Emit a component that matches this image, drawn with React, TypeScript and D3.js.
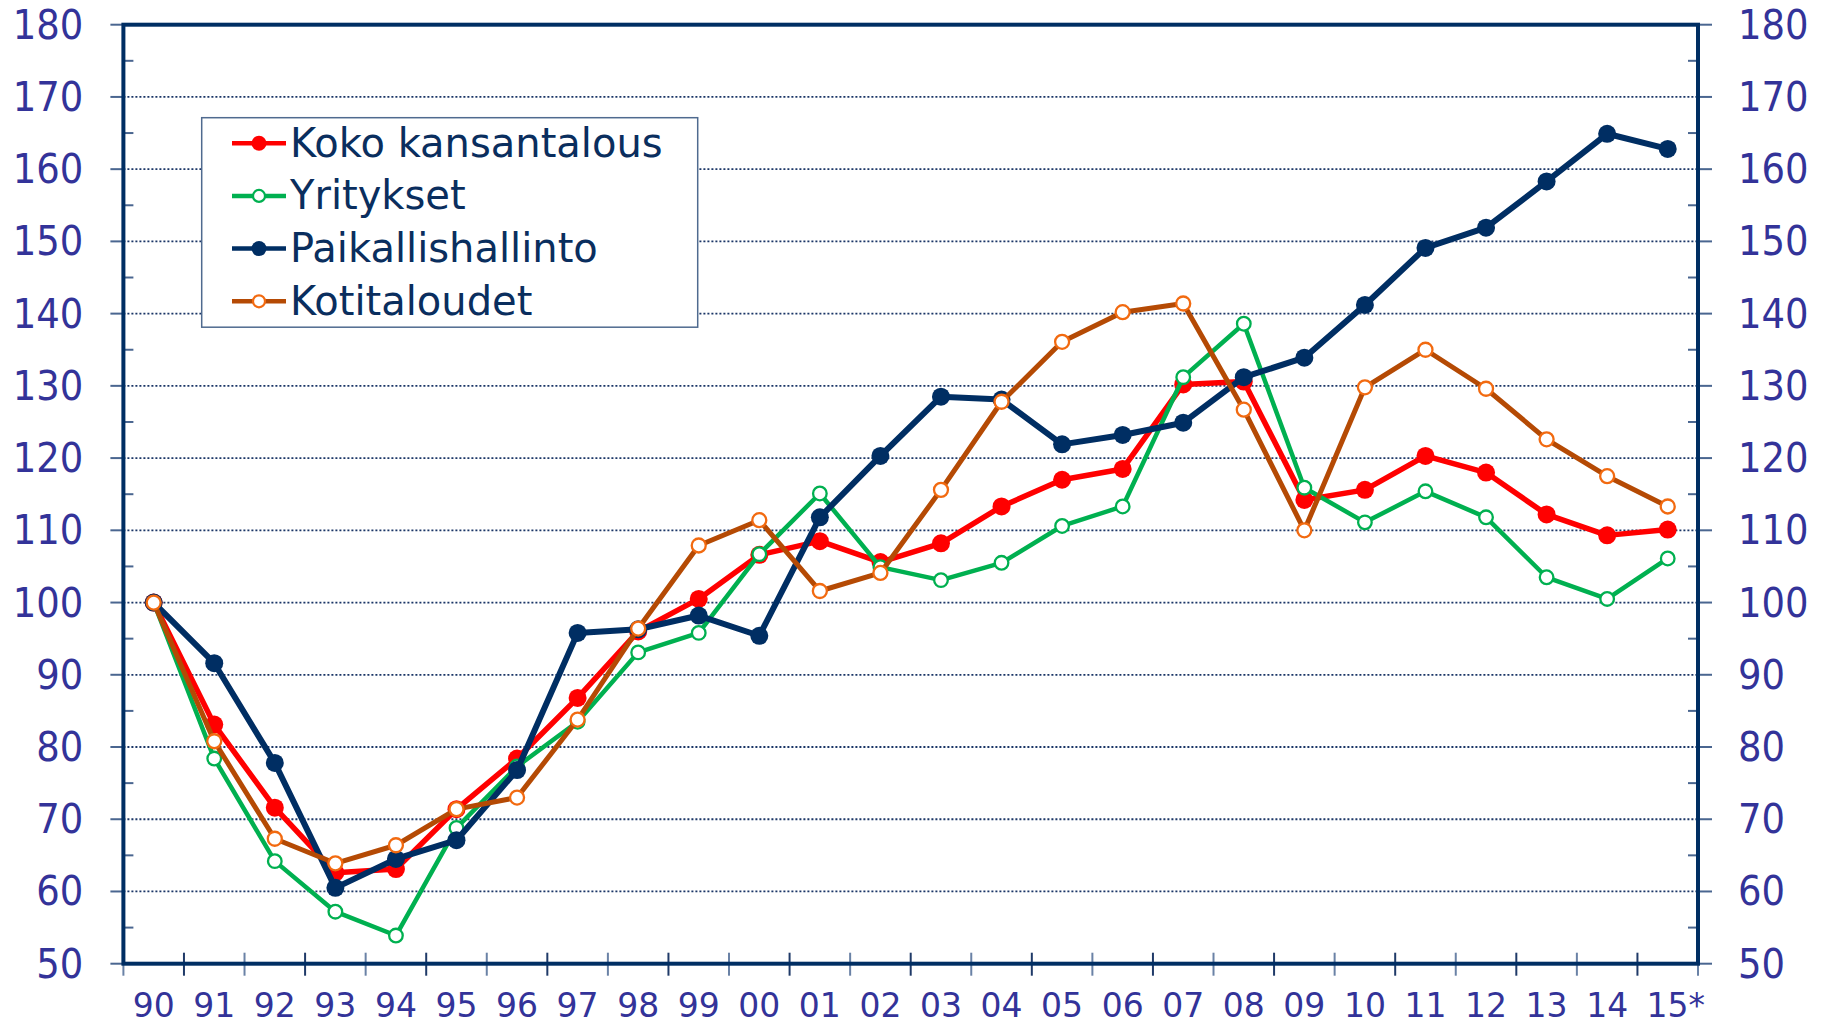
import React from "react";
import { scaleBand, scaleLinear, line, range } from "d3";

// years on the x axis
const years = ["90", "91", "92", "93", "94", "95", "96", "97", "98", "99", "00", "01", "02",
  "03", "04", "05", "06", "07", "08", "09", "10", "11", "12", "13", "14", "15*"];

const yTicks = [50, 60, 70, 80, 90, 100, 110, 120, 130, 140, 150, 160, 170, 180];

// index values (1990 = 100)
const kokoKansantalous = [100, 83.1, 71.6, 62.6, 63.1, 71.4, 78.4, 86.8, 96.0, 100.5, 106.6, 108.5, 105.6,
  108.2, 113.3, 117.0, 118.5, 130.2, 130.6, 114.2, 115.6, 120.3, 118.0, 112.2, 109.3, 110.1];
const yritykset = [100, 78.4, 64.2, 57.2, 53.9, 68.8, 77.3, 83.5, 93.1, 95.8, 106.7, 115.1, 104.9,
  103.1, 105.5, 110.6, 113.3, 131.2, 138.6, 115.9, 111.1, 115.4, 111.8, 103.5, 100.5, 106.1];
const paikallishallinto = [100, 91.6, 77.8, 60.5, 64.5, 67.1, 76.8, 95.8, 96.3, 98.2, 95.4, 111.8, 120.3,
  128.5, 128.1, 121.9, 123.2, 124.9, 131.2, 133.9, 141.2, 149.1, 151.9, 158.3, 164.9, 162.8];
const kotitaloudet = [100, 80.8, 67.3, 63.9, 66.4, 71.4, 73.0, 83.8, 96.4, 107.9, 111.4, 101.6, 104.1,
  115.6, 127.8, 136.1, 140.2, 141.4, 126.7, 110.0, 129.8, 135.0, 129.6, 122.6, 117.5, 113.3];

const seriesNames = ["Koko kansantalous", "Yritykset", "Paikallishallinto", "Kotitaloudet"];

const series = [
  { name: seriesNames[0], values: kokoKansantalous, line: "#FF0000", mark: "#FF0000", fill: "#FF0000", r: 9, lw: 5.5, open: false },
  { name: seriesNames[1], values: yritykset, line: "#00B050", mark: "#00B050", fill: "#FFFFFF", r: 6.8, lw: 4.5, open: true },
  { name: seriesNames[2], values: paikallishallinto, line: "#002E63", mark: "#002E63", fill: "#002E63", r: 9, lw: 6, open: false },
  { name: seriesNames[3], values: kotitaloudet, line: "#B54A04", mark: "#F26A10", fill: "#FFFFFF", r: 7, lw: 5, open: true },
];

const W = 1825;
const H = 1026;
const left = 123.4;
const right = 1698;
const top = 24.7;
const bottom = 963.7;

const axisColor = "#002E63";
const labelColor = "#333399";
const font = "'DejaVu Sans', Verdana, sans-serif";

export default function App() {
  const x = scaleBand().domain(years).range([left, right]);
  const y = scaleLinear().domain([50, 180]).range([bottom, top]);
  const cx = (i) => x(years[i]) + x.bandwidth() / 2;

  const path = line().x((d, i) => cx(i)).y((d) => y(d));

  const minor = range(55, 180, 10);
  const boundaries = range(0, years.length + 1).map((i) => left + i * x.bandwidth());

  // legend layout
  const lgX = 201.7, lgY = 117.7, lgW = 496, lgH = 209.5;
  const rowH = 52.7, firstBase = 156.7;

  return (
    <div style={{ position: "absolute", left: 0, top: 0 }}>
      <svg width={W} height={H} style={{ display: "block", background: "#fff" }}>
        {/* dotted grid lines */}
        {yTicks.filter((t) => t > 50 && t < 180).map((t) => (
          <line key={"g" + t} x1={left} x2={right} y1={y(t)} y2={y(t)}
            stroke="#1A3566" strokeWidth={1.8} strokeDasharray="2,2" />
        ))}

        {/* minor ticks, inside */}
        {minor.map((t) => (
          <g key={"m" + t}>
            <line x1={left} x2={left + 10} y1={y(t)} y2={y(t)} stroke="#4A6690" strokeWidth={2} />
            <line x1={right - 10} x2={right} y1={y(t)} y2={y(t)} stroke="#4A6690" strokeWidth={2} />
          </g>
        ))}

        {/* major ticks, outside */}
        {yTicks.map((t) => (
          <g key={"M" + t}>
            <line x1={left - 13} x2={left} y1={y(t)} y2={y(t)} stroke="#4A6690" strokeWidth={2} />
            <line x1={right} x2={right + 14} y1={y(t)} y2={y(t)} stroke="#4A6690" strokeWidth={2} />
          </g>
        ))}

        {/* x ticks across the axis */}
        {boundaries.map((bx, i) => (
          <line key={"x" + i} x1={bx} x2={bx} y1={bottom - 11} y2={bottom + 12}
            stroke={i % 2 ? "#1F3A68" : "#6A82A6"} strokeWidth={2} />
        ))}

        {/* frame */}
        <rect x={left} y={top} width={right - left} height={bottom - top}
          fill="none" stroke={axisColor} strokeWidth={4} />

        {/* y labels both sides */}
        {yTicks.map((t) => (
          <g key={"l" + t} fontFamily={font} fontSize={37} fill={labelColor}>
            <text transform={`translate(${left - 40},${y(t) + 14}) scale(1,1.1)`} textAnchor="end">{t}</text>
            <text transform={`translate(${right + 40},${y(t) + 14}) scale(1,1.1)`} textAnchor="start">{t}</text>
          </g>
        ))}

        {/* x labels */}
        {years.map((yr, i) => (
          <text key={"yl" + yr} x={cx(i) + (yr === "15*" ? 8 : 0)} y={1017} textAnchor="middle"
            fontFamily={font} fontSize={33} fill={labelColor}>{yr}</text>
        ))}

        {/* series */}
        {series.map((s) => (
          <g key={s.name}>
            <path d={path(s.values)} fill="none" stroke={s.line} strokeWidth={s.lw} strokeLinejoin="round" />
            {s.values.map((v, i) => (
              <circle key={i} cx={cx(i)} cy={y(v)} r={s.r} fill={s.fill}
                stroke={s.mark} strokeWidth={s.open ? 2.3 : 0} />
            ))}
          </g>
        ))}

        {/* legend */}
        <rect x={lgX} y={lgY} width={lgW} height={lgH} fill="#fff" stroke="#4F6A8F" strokeWidth={1.5} />
        {series.map((s, i) => {
          const base = firstBase + i * rowH;
          const my = base - 13.5;
          return (
            <g key={"lg" + s.name}>
              <line x1={232} x2={286} y1={my} y2={my} stroke={s.line} strokeWidth={4.5} />
              <circle cx={259} cy={my} r={s.open ? 6 : 7.5} fill={s.fill}
                stroke={s.mark} strokeWidth={s.open ? 2.2 : 0} />
              <text transform={`translate(290,${base})`} fontFamily={font} fontSize={40}
                fill="#0A2E5E">{s.name}</text>
            </g>
          );
        })}
      </svg>
    </div>
  );
}
